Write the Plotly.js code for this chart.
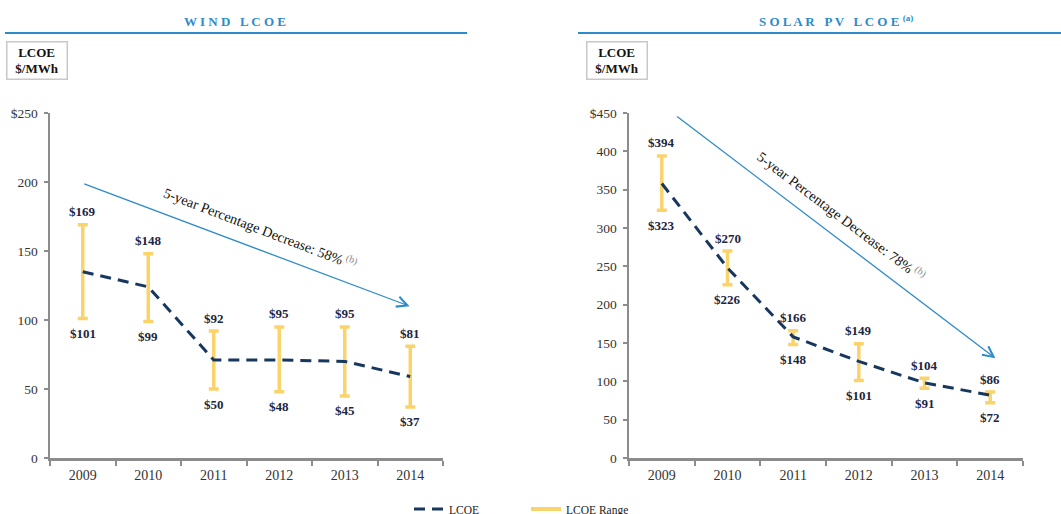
<!DOCTYPE html>
<html>
<head>
<meta charset="utf-8">
<script src="https://cdn.plot.ly/plotly-3.0.1.min.js"></script>
<style>html,body{margin:0;padding:0;background:#fff;}#chart{width:1061px;height:514px;}</style>
</head>
<body>
<div id="chart"></div>
<script>
// ---- data ----
var years = ["2009", "2010", "2011", "2012", "2013", "2014"];
var windLcoe = [135, 124, 71, 71, 70, 59];
var windHigh = [169, 148, 92, 95, 95, 81];
var windLow  = [101, 99, 50, 48, 45, 37];
var solarLcoe = [358, 248, 158, 126, 98, 82];
var solarHigh = [394, 270, 166, 149, 104, 86];
var solarLow  = [323, 226, 148, 101, 91, 72];
var windTickVals = [0, 50, 100, 150, 200, 250];
var windTickText = ["0", "50", "100", "150", "200", "$250"];
var solarTickVals = [0, 50, 100, 150, 200, 250, 300, 350, 400, 450];
var solarTickText = ["0", "50", "100", "150", "200", "250", "300", "350", "400", "$450"];

var SERIF = "Liberation Serif, Times New Roman, serif";
var NAVY = "#17375e";
var YELLOW = "#fad46b";
var BLUE = "#2e8bcb";
var LABEL = "#1c2541";

function rangeTrace(low, high, xa, ya) {
  return {
    x: years, y: low, xaxis: xa, yaxis: ya, type: "scatter", mode: "markers",
    marker: {size: 1, color: "rgba(0,0,0,0)"}, showlegend: false, hoverinfo: "skip",
    error_y: {type: "data", symmetric: false,
      array: high.map(function (h, i) { return h - low[i]; }),
      arrayminus: low.map(function () { return 0; }),
      color: YELLOW, thickness: 3.5, width: 5}
  };
}
function lcoeTrace(vals, xa, ya, show) {
  return {
    x: years, y: vals, xaxis: xa, yaxis: ya, type: "scatter", mode: "lines",
    name: "LCOE", showlegend: show, legendrank: 1,
    line: {color: NAVY, width: 3, dash: "11px,7px"}
  };
}
var traces = [
  rangeTrace(windLow, windHigh, "x", "y"),
  lcoeTrace(windLcoe, "x", "y", true),
  rangeTrace(solarLow, solarHigh, "x2", "y2"),
  lcoeTrace(solarLcoe, "x2", "y2", false),
  {x: [null], y: [null], xaxis: "x", yaxis: "y", type: "scatter", mode: "lines",
   name: "LCOE Range", legendrank: 2, line: {color: YELLOW, width: 4}}
];

var annotations = [];
function addLabels(low, high, xr, yr) {
  years.forEach(function (yearName, i) {
    // category axis: position by category index
    annotations.push({x: i, y: high[i], xref: xr, yref: yr, text: "<b>$" + high[i] + "</b>",
      showarrow: false, yshift: 13, font: {family: SERIF, size: 13, color: LABEL}});
    annotations.push({x: i, y: low[i], xref: xr, yref: yr, text: "<b>$" + low[i] + "</b>",
      showarrow: false, yshift: -15, font: {family: SERIF, size: 13, color: LABEL}});
  });
}
addLabels(windLow, windHigh, "x", "y");
addLabels(solarLow, solarHigh, "x2", "y2");

// trend arrows
annotations.push({xref: "x", yref: "y", axref: "x", ayref: "y", x: 4.99, y: 110, ax: 0, ay: 199,
  showarrow: true, arrowhead: 5, arrowsize: 1.6, arrowwidth: 1.3, arrowcolor: BLUE, text: ""});
annotations.push({xref: "x2", yref: "y2", axref: "x2", ayref: "y2", x: 5.08, y: 130, ax: 0.21, ay: 447,
  showarrow: true, arrowhead: 5, arrowsize: 1.6, arrowwidth: 1.3, arrowcolor: BLUE, text: ""});
annotations.push({xref: "x", yref: "y", x: 2.72, y: 167, showarrow: false, textangle: 21,
  text: "5-year Percentage Decrease: 58%<sup><span style='color:#888'> (b)</span></sup>",
  font: {family: SERIF, size: 14.2, color: "#111"}});
annotations.push({xref: "x2", yref: "y2", x: 2.74, y: 316, showarrow: false, textangle: 37,
  text: "5-year Percentage Decrease: 78%<sup><span style='color:#888'> (b)</span></sup>",
  font: {family: SERIF, size: 14.2, color: "#111"}});

// panel titles (letter-spaced caps)
function spaced(s) { return s.split("").join(" "); }
annotations.push({xref: "paper", yref: "paper", x: 235 / 1061, y: 1 - 22 / 514,
  xanchor: "center", yanchor: "middle", showarrow: false,
  text: "<b>" + spaced("WIND") + "   " + spaced("LCOE") + "</b>", font: {family: SERIF, size: 13, color: BLUE}});
annotations.push({xref: "paper", yref: "paper", x: 836 / 1061, y: 1 - 21 / 514,
  xanchor: "center", yanchor: "middle", showarrow: false,
  text: "<b>" + spaced("SOLAR") + "   " + spaced("PV") + "   " + spaced("LCOE") + " <sup>(a)</sup></b>",
  font: {family: SERIF, size: 13, color: BLUE}});

// unit boxes
[6, 586].forEach(function (px) {
  annotations.push({xref: "paper", yref: "paper", x: px / 1061, y: 1 - 41 / 514, xanchor: "left", yanchor: "top",
    showarrow: false, text: "<b>LCOE</b><br><b>$/MWh</b>", align: "center",
    font: {family: SERIF, size: 13, color: "#111"},
    bordercolor: "#c8c8c8", borderwidth: 1.5, borderpad: 2, bgcolor: "#fff", width: 55});
});

var shapes = [
  {type: "line", xref: "paper", yref: "paper", x0: 5 / 1061, x1: 467 / 1061, y0: 1 - 33 / 514, y1: 1 - 33 / 514,
   line: {color: BLUE, width: 2}},
  {type: "line", xref: "paper", yref: "paper", x0: 578 / 1061, x1: 1, y0: 1 - 33 / 514, y1: 1 - 33 / 514,
   line: {color: BLUE, width: 2}}
];

function xAxis(domain, anchor) {
  return {domain: domain, anchor: anchor, type: "category", range: [-0.5, 5.5], tickson: "boundaries",
    showgrid: false, zeroline: false, showline: true, linecolor: "#8c8c8c", linewidth: 2.5,
    ticks: "outside", ticklen: 5, tickwidth: 2, tickcolor: "#8c8c8c", ticklabelstandoff: 3,
    tickfont: {family: SERIF, size: 14, color: "#333"}, fixedrange: true};
}
function yAxis(domain, anchor, maxv, tv, tt) {
  return {domain: domain, anchor: anchor, range: [0, maxv], tickvals: tv, ticktext: tt,
    showgrid: false, zeroline: false, showline: true, linecolor: "#8c8c8c", linewidth: 2.5,
    ticks: "outside", ticklen: 4, tickwidth: 2, tickcolor: "#8c8c8c", ticklabelstandoff: 3,
    tickfont: {family: SERIF, size: 13.5, color: "#333"}, fixedrange: true};
}
var yDom = [(514 - 458) / 514, (514 - 113) / 514];
var layout = {
  width: 1061, height: 514, margin: {l: 0, r: 0, t: 0, b: 0, autoexpand: false},
  paper_bgcolor: "#fff", plot_bgcolor: "#fff",
  xaxis: xAxis([50 / 1061, 443 / 1061], "y"),
  yaxis: yAxis(yDom, "x", 250, windTickVals, windTickText),
  xaxis2: xAxis([629 / 1061, 1023 / 1061], "y2"),
  yaxis2: yAxis(yDom, "x2", 450, solarTickVals, solarTickText),
  showlegend: true,
  legend: {orientation: "h", x: 409 / 1061, xanchor: "left", y: 5 / 514, yanchor: "middle",
    font: {family: SERIF, size: 11.5, color: "#222"}, entrywidth: 72, entrywidthmode: "pixels",
    bgcolor: "rgba(0,0,0,0)", traceorder: "normal"},
  annotations: annotations, shapes: shapes
};
Plotly.newPlot("chart", traces, layout, {displayModeBar: false, staticPlot: true});
</script>
</body>
</html>
